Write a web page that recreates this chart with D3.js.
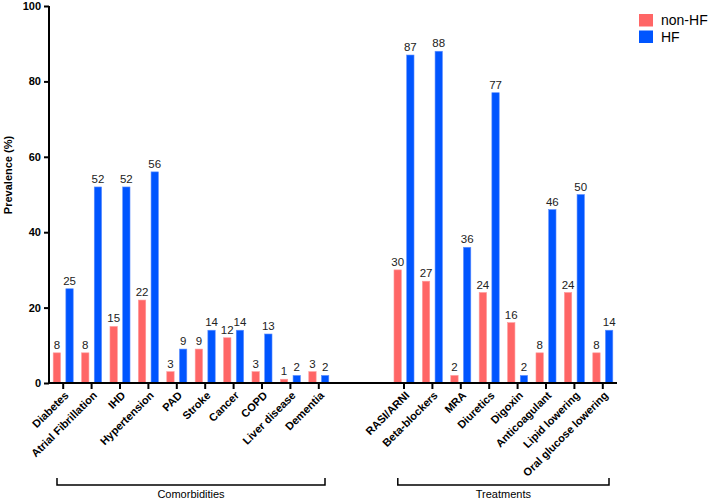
<!DOCTYPE html>
<html>
<head>
<meta charset="utf-8">
<script src="https://cdn.jsdelivr.net/npm/d3@7/dist/d3.min.js"></script>
<style>
  html, body { margin: 0; padding: 0; background: #fff; }
  svg { display: block; font-family: "Liberation Sans", Arial, Helvetica, sans-serif; }
</style>
</head>
<body>
<svg id="chart" width="709" height="500"></svg>
<script>
// ---- Data ----
const comorbidities = ["Diabetes", "Atrial Fibrillation", "IHD", "Hypertension", "PAD", "Stroke", "Cancer", "COPD", "Liver disease", "Dementia"];
const comorbNonHF = [8, 8, 15, 22, 3, 9, 12, 3, 1, 3];
const comorbHF = [25, 52, 52, 56, 9, 14, 14, 13, 2, 2];

const treatments = ["RASI/ARNI", "Beta-blockers", "MRA", "Diuretics", "Digoxin", "Anticoagulant", "Lipid lowering", "Oral glucose lowering"];
const treatNonHF = [30, 27, 2, 24, 16, 8, 24, 8];
const treatHF = [87, 88, 36, 77, 2, 46, 50, 14];

const seriesNames = ["non-HF", "HF"];
const seriesColors = ["#FF6666", "#0055FF"];
const yTicks = [0, 20, 40, 60, 80, 100];
const groupLabels = ["Comorbidities", "Treatments"];
const gapSlots = ["__gap1", "__gap2"];

// ---- Build rows ----
const rows = [];
comorbidities.forEach((c, i) => rows.push({ cat: c, vals: [comorbNonHF[i], comorbHF[i]] }));
treatments.forEach((c, i) => rows.push({ cat: c, vals: [treatNonHF[i], treatHF[i]] }));
const domain = [...comorbidities, ...gapSlots, ...treatments];

const svg = d3.select("#chart");
const x = d3.scaleBand().domain(domain).range([49, 617]).padding(0);
const xs = d3.scaleBand().domain(seriesNames).range([0, x.bandwidth()]).paddingInner(0.42).paddingOuter(0.33);
const y = d3.scaleLinear().domain([0, 100]).range([383, 6]);

// Bars
const groups = svg.append("g").selectAll("g").data(rows).join("g")
  .attr("transform", d => `translate(${x(d.cat)},0)`);

groups.selectAll("rect").data(d => d.vals.map((v, i) => ({ v, s: seriesNames[i], i })))
  .join("rect")
  .attr("x", d => xs(d.s))
  .attr("y", d => y(d.v))
  .attr("width", xs.bandwidth())
  .attr("height", d => y(0) - y(d.v))
  .attr("fill", d => seriesColors[d.i])
  .attr("stroke", d => d.i === 0 ? "#ff9a9a" : "#5f8fff")
  .attr("stroke-width", 0.6);

groups.selectAll("text.val").data(d => d.vals.map((v, i) => ({ v, s: seriesNames[i], i })))
  .join("text")
  .attr("class", "val")
  .attr("x", d => xs(d.s) + xs.bandwidth() / 2)
  .attr("y", d => y(d.v) - 4)
  .attr("text-anchor", "middle")
  .attr("font-size", 11.5)
  .attr("fill", "#222")
  .text(d => d.v);

// Y axis
const yAxis = d3.axisLeft(y).tickValues(yTicks).tickSize(5).tickPadding(3);
const gy = svg.append("g").attr("transform", "translate(49,0)").call(yAxis);
gy.select(".domain").attr("stroke", "#000").attr("stroke-width", 2).attr("d", "M0,6V383");
gy.selectAll(".tick line").attr("stroke", "#000").attr("stroke-width", 2);
gy.selectAll(".tick text").attr("font-size", 11).attr("font-weight", "bold").attr("fill", "#000")
  .attr("font-family", "Liberation Sans, Arial, sans-serif");

// X axis
const xAxis = d3.axisBottom(x).tickValues([...comorbidities, ...treatments]).tickSize(6).tickFormat("");
const gx = svg.append("g").attr("transform", "translate(0,383)").call(xAxis);
gx.select(".domain").attr("stroke", "#000").attr("stroke-width", 2).attr("d", "M48,0H617");
gx.selectAll(".tick line").attr("stroke", "#000").attr("stroke-width", 2);

// Rotated category labels
svg.append("g").selectAll("text").data([...comorbidities, ...treatments]).join("text")
  .attr("transform", d => `translate(${x(d) + x.bandwidth() / 2 + 4},394) rotate(-45)`)
  .attr("text-anchor", "end")
  .attr("dominant-baseline", "middle")
  .attr("font-size", 11)
  .attr("font-weight", "bold")
  .attr("fill", "#000")
  .text(d => d);

// Y title
svg.append("text")
  .attr("transform", "translate(12,175) rotate(-90)")
  .attr("text-anchor", "middle")
  .attr("font-size", 11)
  .attr("font-weight", "bold")
  .text("Prevalence (%)");

// Group brackets
const brackets = [
  { label: groupLabels[0], x0: x(comorbidities[0]) + 8, x1: x(comorbidities[comorbidities.length - 1]) + x.bandwidth() - 8 },
  { label: groupLabels[1], x0: x(treatments[0]) + 8, x1: x(treatments[treatments.length - 1]) + x.bandwidth() - 8 }
];
const bg = svg.append("g");
brackets.forEach(b => {
  bg.append("path")
    .attr("d", `M${b.x0},478V485H${b.x1}V478`)
    .attr("fill", "none").attr("stroke", "#000").attr("stroke-width", 1.5);
  bg.append("text")
    .attr("x", (b.x0 + b.x1) / 2).attr("y", 498)
    .attr("text-anchor", "middle").attr("font-size", 11).attr("fill", "#000")
    .text(b.label);
});

// Legend
const lg = svg.append("g");
seriesNames.forEach((s, i) => {
  lg.append("rect").attr("x", 639).attr("y", 14 + i * 16.5).attr("width", 14).attr("height", 12.5)
    .attr("fill", seriesColors[i]);
  lg.append("text").attr("x", 661).attr("y", 25 + i * 16.5).attr("font-size", 14).attr("fill", "#000")
    .text(s);
});
</script>
</body>
</html>
